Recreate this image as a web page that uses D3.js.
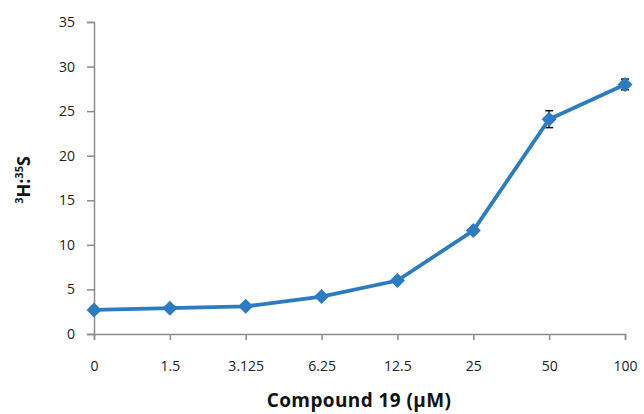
<!DOCTYPE html>
<html>
<head>
<meta charset="utf-8">
<script src="https://cdn.jsdelivr.net/npm/d3@7"></script>
<style>
  body { margin: 0; background: #fff; }
  text { font-family: "Open Sans", "DejaVu Sans", sans-serif; }
</style>
</head>
<body>
<div id="run"></div>
<script>
var doses = ["0", "1.5", "3.125", "6.25", "12.5", "25", "50", "100"];
var ratio = [2.7, 2.9, 3.1, 4.2, 6.0, 11.6, 24.1, 28.0];
var errs = [0.1, 0.1, 0.1, 0.15, 0.2, 0.3, 0.95, 0.6];
var yTicks = [0, 5, 10, 15, 20, 25, 30, 35];

var width = 644, height = 414;
var margin = {left: 94, right: 19, top: 22, bottom: 80};

var svg = d3.select("#run").append("svg")
    .attr("width", width)
    .attr("height", height);

var x = d3.scalePoint()
    .domain(doses)
    .range([margin.left, width - margin.right]);

var y = d3.scaleLinear()
    .domain([0, 35])
    .range([height - margin.bottom, margin.top]);

// y axis
var yAxis = svg.append("g")
    .attr("transform", "translate(" + margin.left + ",0)")
    .call(d3.axisLeft(y).tickValues(yTicks).tickSize(7).tickPadding(12));

// x axis
var xAxis = svg.append("g")
    .attr("transform", "translate(0," + y(0) + ")")
    .call(d3.axisBottom(x).tickSize(6).tickPadding(21));

[yAxis, xAxis].forEach(function(g) {
  g.select(".domain").attr("stroke", "#8c8c8c").attr("stroke-width", 1.5);
  g.selectAll(".tick line").attr("stroke", "#8c8c8c").attr("stroke-width", 1.5);
  g.selectAll(".tick text")
      .attr("fill", "#222")
      .style("font-size", "14px")
      .style("font-family", "'Open Sans', sans-serif");
});

// error bars
var eb = svg.append("g").attr("stroke", "#111").attr("stroke-width", 1.5);
doses.forEach(function(d, i) {
  var cx = x(d);
  eb.append("line").attr("x1", cx).attr("x2", cx)
      .attr("y1", y(ratio[i] - errs[i])).attr("y2", y(ratio[i] + errs[i]));
  [ratio[i] - errs[i], ratio[i] + errs[i]].forEach(function(v) {
    eb.append("line").attr("x1", cx - 4).attr("x2", cx + 4)
        .attr("y1", y(v)).attr("y2", y(v));
  });
});

// line
var line = d3.line()
    .x(function(d, i) { return x(doses[i]); })
    .y(function(d) { return y(d); });

svg.append("path")
    .datum(ratio)
    .attr("fill", "none")
    .attr("stroke", "#2b7cc1")
    .attr("stroke-width", 3.8)
    .attr("d", line);

// diamond markers
svg.selectAll(".pt")
    .data(ratio)
  .enter().append("path")
    .attr("class", "pt")
    .attr("transform", function(d, i) { return "translate(" + x(doses[i]) + "," + y(d) + ")"; })
    .attr("d", "M0,-7.5L7.5,0L0,7.5L-7.5,0Z")
    .attr("fill", "#2b7cc1");

// axis titles
svg.append("text")
    .attr("x", 359)
    .attr("y", 407)
    .attr("text-anchor", "middle")
    .style("font-size", "19px")
    .style("font-weight", "bold")
    .style("letter-spacing", "0.4px")
    .attr("fill", "#111")
    .text("Compound 19 (\u00b5M)");

var yt = svg.append("text")
    .attr("transform", "translate(30,180) rotate(-90)")
    .attr("text-anchor", "middle")
    .style("font-size", "18px")
    .style("font-weight", "bold")
    .attr("fill", "#111");
yt.append("tspan").attr("baseline-shift", "super").style("font-size", "11px").text("3");
yt.append("tspan").text("H:");
yt.append("tspan").attr("baseline-shift", "super").style("font-size", "11px").text("35");
yt.append("tspan").text("S");
</script>
</body>
</html>
